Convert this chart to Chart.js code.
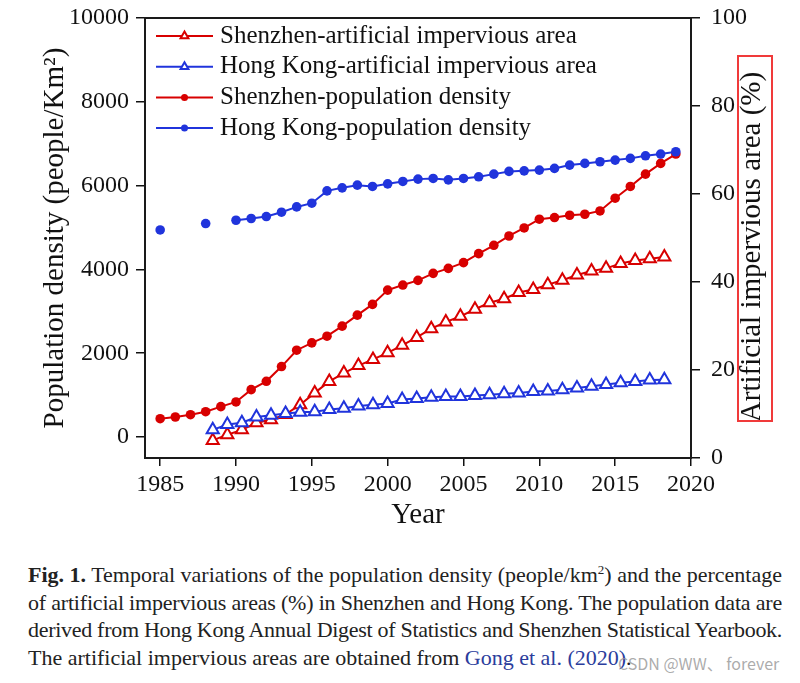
<!DOCTYPE html>
<html>
<head>
<meta charset="utf-8">
<script src="https://cdn.jsdelivr.net/npm/chart.js@4.4.1/dist/chart.umd.min.js"></script>
<style>
  body { margin: 0; width: 800px; height: 683px; overflow: hidden; background: #fff; position: relative; }
  #wrap { position: absolute; left: 0; top: 0; width: 800px; height: 540px; }
  #mark { position: absolute; left: 737px; top: 55px; width: 36px; height: 367px; border: 2px solid #f03a3a; box-sizing: border-box; }
  .cap { position: absolute; left: 28px; top: 561px; width: 754px; font-family: 'Liberation Serif', serif; font-size: 22px; color: #222; line-height: 27.6px; }
  .ln { white-space: nowrap; }
  .cap sup { font-size: 13px; line-height: 0; }
  .lnk { color: #2b3d9c; }
  #wm { position: absolute; left: 618px; top: 651px; font-family: 'Noto Sans CJK SC', sans-serif; font-size: 16px; color: rgba(150,150,150,0.8); }
</style>
</head>
<body>
<div id="wrap"><canvas id="popChart"></canvas></div>
<div id="mark"></div>
<div class="cap">
  <div class="ln fit"><span class="in"><b>Fig. 1.</b> Temporal variations of the population density (people/km<sup>2</sup>) and the percentage</span></div>
  <div class="ln fit"><span class="in">of artificial impervious areas (%) in Shenzhen and Hong Kong. The population data are</span></div>
  <div class="ln fit"><span class="in">derived from Hong Kong Annual Digest of Statistics and Shenzhen Statistical Yearbook.</span></div>
  <div class="ln"><span class="in">The artificial impervious areas are obtained from <span class="lnk">Gong et al. (2020)</span>.</span></div>
</div>
<div id="wm">CSDN @WW、 forever</div>
<script>
// Population density, people per km2
const years = [1985, 1986, 1987, 1988, 1989, 1990, 1991, 1992, 1993, 1994, 1995, 1996,
  1997, 1998, 1999, 2000, 2001, 2002, 2003, 2004, 2005, 2006, 2007, 2008, 2009, 2010,
  2011, 2012, 2013, 2014, 2015, 2016, 2017, 2018, 2019];
const szPop = [438, 478, 533, 605, 725, 837, 1131, 1330, 1682, 2072, 2248, 2407,
  2646, 2909, 3165, 3507, 3627, 3739, 3906, 4026, 4162, 4377, 4576, 4798, 4990, 5198,
  5238, 5293, 5317, 5396, 5700, 5980, 6274, 6530, 6753];
const hkPop = [4942, null, null, 5095, null, 5174, 5215, 5262, 5365, 5492, 5581, 5875,
  5947, 6011, 5980, 6042, 6100, 6155, 6171, 6138, 6171, 6210, 6274, 6339, 6353, 6370,
  6411, 6490, 6530, 6570, 6609, 6650, 6712, 6753, 6808];

// Artificial impervious area, %
const impYears = [1987, 1988, 1989, 1990, 1991, 1992, 1993, 1994, 1995, 1996, 1997,
  1998, 1999, 2000, 2001, 2002, 2003, 2004, 2005, 2006, 2007, 2008, 2009, 2010, 2011,
  2012, 2013, 2014, 2015, 2016, 2017, 2018];
const szImp = [4.0, 5.3, 6.4, 8.0, 8.7, 9.9, 12.1, 14.8, 17.4, 19.3, 21.0, 22.4, 23.9,
  25.6, 27.4, 29.4, 30.9, 32.2, 33.8, 35.3, 36.2, 37.6, 38.3, 39.4, 40.4, 41.6, 42.5,
  43.1, 44.2, 44.9, 45.3, 45.7];
const hkImp = [6.4, 7.6, 8.0, 9.3, 9.7, 10.1, 10.4, 10.5, 11.0, 11.3, 11.8, 12.1, 12.4,
  13.3, 13.5, 13.8, 14.0, 14.0, 14.2, 14.4, 14.6, 14.8, 15.1, 15.2, 15.5, 15.9, 16.3,
  16.7, 17.1, 17.4, 17.7, 17.8];

const popTicks = [0, 2000, 4000, 6000, 8000, 10000];
const yearTicks = [1985, 1990, 1995, 2000, 2005, 2010, 2015, 2020];

const RED = '#d80000';
const BLUE = '#2034dc';
const rightTitle = 'Artificial impervious area (%)';

const pts = (xs, ys) => xs.map((x, i) => ({ x: x, y: ys[i] }));

// stretch the caption lines to the full width, like the printed page
document.querySelectorAll('.ln.fit .in').forEach(s => {
  const w = s.getBoundingClientRect().width;
  s.style.letterSpacing = ((754 - w) / s.textContent.length) + 'px';
});

Chart.defaults.font.family = "'Liberation Serif', 'Times New Roman', serif";
Chart.defaults.color = '#111';

// frame round the plot area
const frame = {
  id: 'frame',
  beforeDatasetsDraw(chart) {
    const a = chart.chartArea, ctx = chart.ctx;
    ctx.save();
    ctx.strokeStyle = '#1a1a1a';
    ctx.lineWidth = 2;
    ctx.strokeRect(a.left, a.top, a.right - a.left, a.bottom - a.top);
    ctx.restore();
  }
};

// right axis title reads bottom to top, like the left one
const rightAxisTitle = {
  id: 'rightAxisTitle',
  afterDraw(chart) {
    const ctx = chart.ctx, a = chart.chartArea;
    ctx.save();
    ctx.translate(a.right + 61, (a.top + a.bottom) / 2 + 9);
    ctx.rotate(-Math.PI / 2);
    ctx.font = "29px 'Liberation Serif'";
    ctx.fillStyle = '#111';
    ctx.textAlign = 'center';
    ctx.textBaseline = 'middle';
    ctx.fillText(rightTitle, 0, 0);
    ctx.restore();
  }
};

// legend drawn inside the plot, top left
const insideLegend = {
  id: 'insideLegend',
  afterDraw(chart) {
    const ctx = chart.ctx, a = chart.chartArea;
    ctx.save();
    ctx.font = "25px 'Liberation Serif'";
    ctx.textBaseline = 'middle';
    chart.data.datasets.forEach((ds, i) => {
      const y = a.top + 18 + i * 30.7;
      const x0 = a.left + 11;
      ctx.strokeStyle = ds.borderColor;
      ctx.lineWidth = 2;
      ctx.beginPath();
      ctx.moveTo(x0, y);
      ctx.lineTo(x0 + 57, y);
      ctx.stroke();
      ctx.fillStyle = ds.pointBackgroundColor;
      ctx.lineWidth = ds.pointBorderWidth;
      Chart.helpers.drawPoint(ctx, {
        pointStyle: ds.pointStyle,
        radius: ds.pointStyle === 'triangle' ? 4.5 : 3.5,
        borderWidth: ds.pointBorderWidth,
        rotation: 0
      }, x0 + 28.5, y);
      ctx.fillStyle = '#111';
      ctx.fillText(ds.label, x0 + 64, y);
    });
    ctx.restore();
  }
};

const tickGrid = (len) => ({
  drawOnChartArea: false, drawTicks: true, tickLength: len, color: '#111', lineWidth: 1.5
});

new Chart(document.getElementById('popChart'), {
  type: 'line',
  data: {
    datasets: [{
      label: 'Shenzhen-artificial impervious area',
      data: pts(impYears, szImp),
      xAxisID: 'x2', yAxisID: 'y2',
      borderColor: RED, borderWidth: 2,
      pointStyle: 'triangle', pointRadius: 7, pointBorderWidth: 2,
      pointBorderColor: RED, pointBackgroundColor: '#fff',
      order: 3
    }, {
      label: 'Hong Kong-artificial impervious area',
      data: pts(impYears, hkImp),
      xAxisID: 'x2', yAxisID: 'y2',
      borderColor: BLUE, borderWidth: 2,
      pointStyle: 'triangle', pointRadius: 7, pointBorderWidth: 2,
      pointBorderColor: BLUE, pointBackgroundColor: '#fff',
      order: 2
    }, {
      label: 'Shenzhen-population density',
      data: pts(years, szPop),
      xAxisID: 'x', yAxisID: 'y',
      borderColor: RED, borderWidth: 2,
      pointStyle: 'circle', pointRadius: 4.8, pointBorderWidth: 0,
      pointBorderColor: RED, pointBackgroundColor: RED,
      order: 1
    }, {
      label: 'Hong Kong-population density',
      data: pts(years, hkPop),
      xAxisID: 'x', yAxisID: 'y',
      borderColor: BLUE, borderWidth: 2,
      pointStyle: 'circle', pointRadius: 4.8, pointBorderWidth: 0,
      pointBorderColor: BLUE, pointBackgroundColor: BLUE,
      order: 0
    }]
  },
  options: {
    responsive: true,
    maintainAspectRatio: false,
    animation: false,
    layout: { padding: { top: 18, left: 0, right: 0, bottom: 0 } },
    plugins: { legend: { display: false }, tooltip: { enabled: false } },
    scales: {
      x: {
        type: 'linear', position: 'bottom', min: 1984, max: 2020,
        afterFit: s => { s.height = 82; },
        afterBuildTicks: s => { s.ticks = yearTicks.map(v => ({ value: v })); },
        ticks: { font: { size: 24 }, padding: 4, maxRotation: 0, autoSkip: false, callback: v => String(v) },
        grid: tickGrid(8),
        border: { display: false },
        title: { display: true, text: 'Year', font: { size: 29 }, padding: { top: 0, bottom: 7 } }
      },
      x2: {
        type: 'linear', display: false, min: 1982.35, max: 2019.83
      },
      y: {
        position: 'left', min: -500, max: 10000,
        afterFit: s => { s.width = 145; s.paddingTop = 0; s.paddingBottom = 0; },
        afterBuildTicks: s => { s.ticks = popTicks.map(v => ({ value: v })); },
        ticks: { font: { size: 24 }, padding: 7, callback: v => String(v) },
        grid: tickGrid(9),
        border: { display: false },
        title: { display: true, text: 'Population density (people/Km²)', font: { size: 29 }, padding: { top: 38, bottom: 0 } }
      },
      y2: {
        position: 'right', min: 0, max: 100,
        afterFit: s => { s.width = 109; s.paddingTop = 0; s.paddingBottom = 0; },
        ticks: { font: { size: 24 }, padding: 11, stepSize: 20 },
        grid: tickGrid(9),
        border: { display: false }
      }
    }
  },
  plugins: [frame, rightAxisTitle, insideLegend]
});
</script>
</body>
</html>
